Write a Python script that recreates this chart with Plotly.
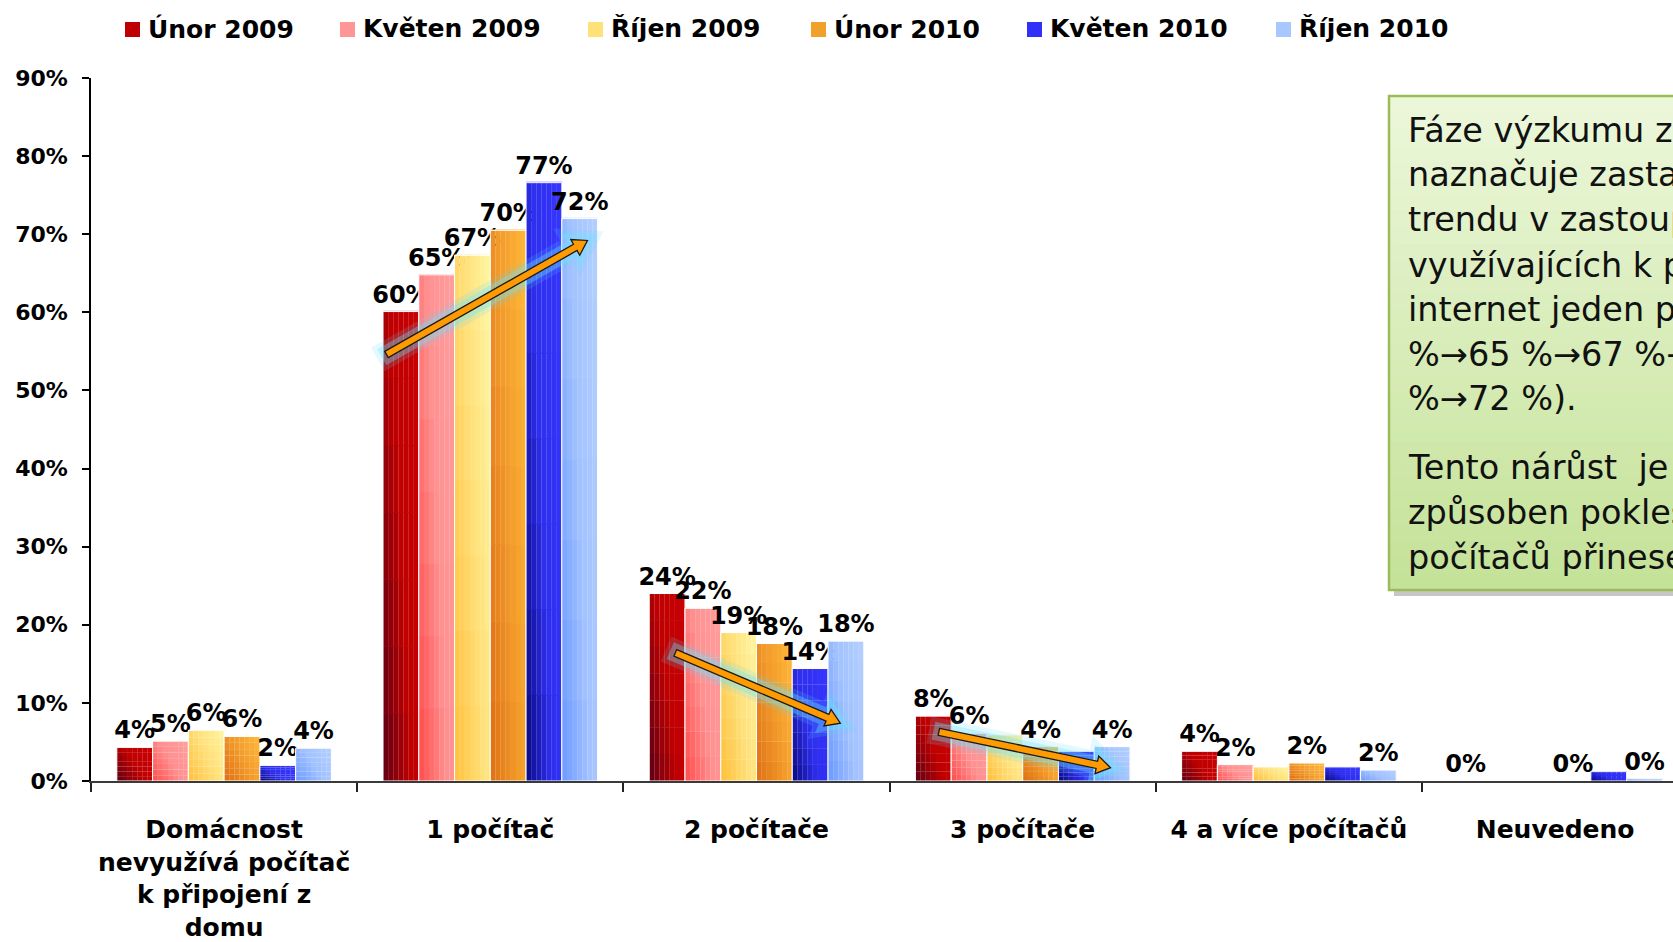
import math
import plotly.graph_objects as go

# ---------------- data ----------------
categories = ["Domácnost<br>nevyužívá počítač<br>k připojení z<br>domu", "1 počítač",
              "2 počítače", "3 počítače", "4 a více počítačů", "Neuvedeno"]
series_names = ["Únor 2009", "Květen 2009", "Říjen 2009", "Únor 2010", "Květen 2010", "Říjen 2010"]

unor_2009 = [4.3, 60.1, 24.0, 8.3, 3.8, 0.0]
kveten_2009 = [5.1, 64.8, 22.1, 6.1, 2.1, 0.0]
rijen_2009 = [6.5, 67.3, 19.0, 5.9, 1.8, 0.0]
unor_2010 = [5.7, 70.5, 17.6, 4.4, 2.3, 0.0]
kveten_2010 = [2.0, 76.6, 14.4, 3.8, 1.8, 1.2]
rijen_2010 = [4.2, 72.0, 17.9, 4.4, 1.4, 0.3]

labels_unor_2009 = ["4%", "60%", "24%", "8%", "4%", "0%"]
labels_kveten_2009 = ["5%", "65%", "22%", "6%", "2%", ""]
labels_rijen_2009 = ["6%", "67%", "19%", "", "", ""]
labels_unor_2010 = ["6%", "70%", "18%", "4%", "2%", "0%"]
labels_kveten_2010 = ["2%", "77%", "14%", "", "", ""]
labels_rijen_2010 = ["4%", "72%", "18%", "4%", "2%", "0%"]

y_tick_values = [0, 10, 20, 30, 40, 50, 60, 70, 80, 90]
y_tick_labels = ["0%", "10%", "20%", "30%", "40%", "50%", "60%", "70%", "80%", "90%"]

# trend arrows: (start category position, start %), (end category position, end %)
trend_arrows = [((0.61, 54.6), (1.365, 69.2)),
                ((1.695, 16.4), (2.315, 7.4)),
                ((2.685, 6.3), (3.33, 1.7))]

box_lines = ["Fáze výzkumu z", "naznačuje zastavení", "trendu v zastoupení",
             "využívajících k připojení", "internet jeden počítač (60",
             "%→65 %→67 %→70 %→77", "%→72 %).",
             "Tento nárůst\u00a0 je", "způsoben poklesem", "počítačů přinesených"]

# ---------------- style / layout constants ----------------
series_values = [unor_2009, kveten_2009, rijen_2009, unor_2010, kveten_2010, rijen_2010]
series_labels = [labels_unor_2009, labels_kveten_2009, labels_rijen_2009,
                 labels_unor_2010, labels_kveten_2010, labels_rijen_2010]
series_colors = ["#BE0005", "#FF9696", "#FFE17A", "#F2A02C", "#3030F8", "#A9C7FF"]
# diagonal gradient stops (bottom-left -> top-right) per series
series_gradients = [
    [(0.0, (92, 0, 20)), (0.5, (192, 0, 0)), (1.0, (200, 0, 4))],
    [(0.0, (255, 74, 74)), (0.5, (255, 144, 144)), (1.0, (255, 158, 158))],
    [(0.0, (255, 191, 58)), (0.5, (255, 223, 120)), (1.0, (255, 246, 162))],
    [(0.0, (222, 110, 18)), (0.5, (242, 154, 42)), (1.0, (255, 186, 58))],
    [(0.0, (8, 8, 126)), (0.45, (46, 46, 238)), (1.0, (54, 54, 255))],
    [(0.0, (106, 152, 255)), (0.5, (162, 194, 255)), (1.0, (180, 208, 255))],
]

W, H = 1673, 942
ML, MT, MB = 91, 78, 161
PLOT_W = W - ML
PLOT_H = H - MT - MB
CAT_PX = 266.2
X_MIN = -0.5
X_MAX = X_MIN + PLOT_W / CAT_PX
Y_MAX = 90
PX_PER_PCT = PLOT_H / Y_MAX
GROUP_W = 0.806
BAR_W = GROUP_W / len(series_names)
N_COLS, N_ROWS = 7, 7

BOLD = "DejaVu Sans, Verdana, sans-serif"


def px_x(px):
    return (px - ML) / PLOT_W


def px_y(py):
    return (H - MB - py) / PLOT_H


def grad_color(stops, t):
    for (t0, c0), (t1, c1) in zip(stops[:-1], stops[1:]):
        if t <= t1:
            f = (t - t0) / (t1 - t0) if t1 > t0 else 0
            return "rgb(%d,%d,%d)" % tuple(round(c0[k] + (c1[k] - c0[k]) * f) for k in range(3))
    return "rgb(%d,%d,%d)" % stops[-1][1]


fig = go.Figure()
xs = list(range(len(categories)))
for i, (name, vals, labs, stops) in enumerate(
        zip(series_names, series_values, series_labels, series_gradients)):
    base_off = -GROUP_W / 2 + i * BAR_W
    # gradient cells (columns across the bar, rows up the bar)
    for j in range(N_COLS):
        tx = (j + 0.5) / N_COLS
        for r in range(N_ROWS):
            ty = (r + 0.5) / N_ROWS
            fig.add_trace(go.Bar(
                x=xs, y=[v / N_ROWS * 1.01 for v in vals], base=[v * r / N_ROWS for v in vals],
                offset=base_off + j * BAR_W / N_COLS, width=BAR_W / N_COLS * 1.03,
                marker=dict(color=grad_color(stops, 0.62 * tx + 0.38 * ty), line=dict(width=0)),
                showlegend=False, hoverinfo="skip",
            ))
    # outline + labels
    fig.add_trace(go.Bar(
        x=xs, y=vals, name=name, offset=base_off, width=BAR_W,
        text=labs, textposition="outside",
        textfont=dict(family=BOLD, size=24, color="black", weight="bold"),
        constraintext="none", cliponaxis=False, textangle=0,
        marker=dict(color="rgba(0,0,0,0)", line=dict(color="white", width=1)),
        showlegend=False,
    ))

shapes = []
annotations = []

# ---- trend arrows (pixel-sized block arrows anchored at data points) ----
for (x0, y0), (x1, y1) in trend_arrows:
    dx = (x1 - x0) * CAT_PX
    dy = (y1 - y0) * PX_PER_PCT
    L = math.hypot(dx, dy)
    ux, uy = dx / L, dy / L
    nx, ny = -uy, ux
    sw, hw, hl = 3.6, 9.0, 14.0
    pts = [(nx * sw, ny * sw),
           ((L - hl) * ux + nx * sw, (L - hl) * uy + ny * sw),
           ((L - hl) * ux + nx * hw, (L - hl) * uy + ny * hw),
           (L * ux, L * uy),
           ((L - hl) * ux - nx * hw, (L - hl) * uy - ny * hw),
           ((L - hl) * ux - nx * sw, (L - hl) * uy - ny * sw),
           (-nx * sw, -ny * sw)]
    path = "M " + " L ".join(f"{px:.2f},{py:.2f}" for px, py in pts) + " Z"
    common = dict(type="path", path=path, xref="x", yref="y", xsizemode="pixel",
                  ysizemode="pixel", xanchor=x0, yanchor=y0, layer="above")
    shapes.append(dict(**common, fillcolor="rgba(90,215,255,0.18)",
                       line=dict(color="rgba(90,215,255,0.16)", width=20)))
    shapes.append(dict(**common, fillcolor="rgba(110,230,255,0.3)",
                       line=dict(color="rgba(110,230,255,0.35)", width=11)))
    shapes.append(dict(**common, fillcolor="#FF9A00",
                       line=dict(color="#1a1a1a", width=1.3)))

# ---- text box ----
bx0, by0, bx1, by1 = 1389, 96, 1760, 590
shapes.append(dict(type="rect", xref="paper", yref="paper",
                   x0=px_x(bx0 + 5), x1=px_x(bx1 + 5), y0=px_y(by1 + 6), y1=px_y(by0 + 6),
                   fillcolor="rgba(0,0,0,0.22)", line=dict(width=0), layer="above"))
n_box = 30
top_c = (236, 247, 218)
bot_c = (196, 226, 152)
for i in range(n_box):
    t = i / (n_box - 1)
    c = tuple(round(top_c[k] + (bot_c[k] - top_c[k]) * t) for k in range(3))
    ya = by0 + (by1 - by0) * i / n_box
    yb = by0 + (by1 - by0) * (i + 1) / n_box
    shapes.append(dict(type="rect", xref="paper", yref="paper",
                       x0=px_x(bx0), x1=px_x(bx1), y0=px_y(yb + 0.6), y1=px_y(ya),
                       fillcolor=f"rgb{c}", line=dict(width=0), layer="above"))
shapes.append(dict(type="rect", xref="paper", yref="paper",
                   x0=px_x(bx0), x1=px_x(bx1), y0=px_y(by1), y1=px_y(by0),
                   fillcolor="rgba(0,0,0,0)", line=dict(color="#9BBB59", width=2.5),
                   layer="above"))
line_centers = [130, 175, 220, 265, 309, 354, 399, 467, 512, 557]
for txt, cy in zip(box_lines, line_centers):
    annotations.append(dict(text=txt, xref="paper", yref="paper", x=px_x(1406), y=px_y(cy),
                            xanchor="left", yanchor="middle", showarrow=False,
                            font=dict(family="DejaVu Sans, sans-serif", size=33.5, color="#111111")))

# ---- legend (manual) ----
legend_left = [125, 340, 588, 811, 1027, 1276]
for name, col, lx in zip(series_names, series_colors, legend_left):
    shapes.append(dict(type="rect", xref="paper", yref="paper",
                       x0=px_x(lx), x1=px_x(lx + 15), y0=px_y(37), y1=px_y(22),
                       fillcolor=col, line=dict(width=0)))
    annotations.append(dict(text=name, xref="paper", yref="paper", x=px_x(lx + 21), y=px_y(29),
                            xanchor="left", yanchor="middle", showarrow=False,
                            font=dict(family=BOLD, size=25, color="black", weight="bold")))

fig.update_layout(
    width=W, height=H, autosize=False,
    margin=dict(l=ML, r=0, t=MT, b=MB, pad=0, autoexpand=False),
    barmode="overlay",
    plot_bgcolor="white", paper_bgcolor="white",
    showlegend=False,
    shapes=shapes, annotations=annotations,
    xaxis=dict(range=[X_MIN, X_MAX], tickmode="array", tickvals=xs, ticktext=categories,
               ticks="", showline=True, linecolor="#3a3a3a", linewidth=2, automargin=False,
               showgrid=False, zeroline=False, ticklabelstandoff=25,
               tickfont=dict(family=BOLD, size=25, color="black", weight="bold"),
               minor=dict(tickmode="array", tickvals=[i - 0.5 for i in range(len(categories) + 1)],
                          ticks="outside", ticklen=9, tickcolor="#222222", tickwidth=1.5,
                          showgrid=False)),
    yaxis=dict(range=[0, Y_MAX], tickmode="array", tickvals=y_tick_values, ticktext=y_tick_labels,
               ticks="outside", ticklen=7, tickwidth=1.5, tickcolor="black", automargin=False,
               showline=True, linecolor="black", linewidth=1.5,
               showgrid=False, zeroline=False, ticklabelstandoff=10,
               tickfont=dict(family=BOLD, size=22, color="black", weight="bold")),
)

fig.write_html("out.html", config={"displayModeBar": False},
               post_script="document.body.style.margin='0';document.body.style.overflow='hidden';")
